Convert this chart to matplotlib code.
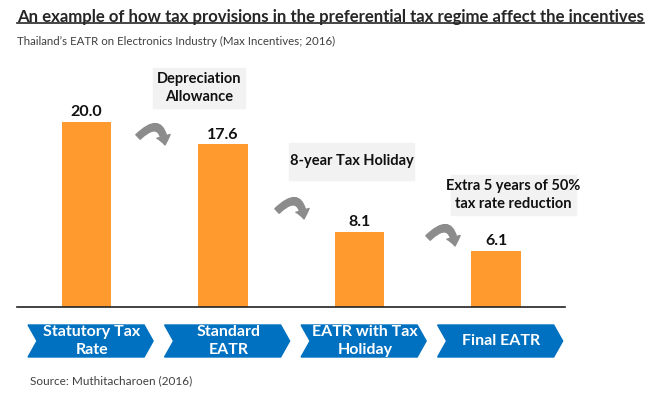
import matplotlib.pyplot as plt
from matplotlib.patches import Polygon, FancyArrowPatch, Rectangle
from matplotlib.path import Path
from matplotlib import transforms

# data
stages = ["Statutory Tax\nRate", "Standard\nEATR", "EATR with Tax\nHoliday", "Final EATR"]
eatr = [20.0, 17.6, 8.1, 6.1]
steps = ["Depreciation\nAllowance", "8-year Tax Holiday", "Extra 5 years of 50%\ntax rate reduction"]

W, H = 656, 399
plt.rcParams['font.family'] = ['Lato', 'DejaVu Sans']

fig = plt.figure(figsize=(W / 100, H / 100), dpi=100)

def px(x, y):
    return x / W, 1 - y / H

# axes: baseline at y=307px, 9.25 px per unit
ax = fig.add_axes([17 / W, (H - 307) / H, (565 - 17) / W, 231 / H])
x = list(range(len(eatr)))
ax.bar(x, eatr, width=0.36, color="#FF9A2E")
ax.set_xlim(-0.509, 3.505)
ax.set_ylim(0, 25)
for s in ["top", "right", "left"]:
    ax.spines[s].set_visible(False)
ax.spines["bottom"].set_color("#222222")
ax.spines["bottom"].set_linewidth(1.2)
ax.set_xticks([])
ax.set_yticks([])
for xi, v in zip(x, eatr):
    ax.text(xi, v + 0.3, f"{v:.1f}", ha="center", va="bottom",
            fontsize=11.5, fontweight="bold", color="#111111")

# chevron labels under bars
blend = transforms.blended_transform_factory(ax.transData, fig.transFigure)
half = 0.458
notch = 9 / 136.5
y0, y1 = 1 - 325 / H, 1 - 357 / H
ym = (y0 + y1) / 2
for xi, lab in zip(x, stages):
    c = xi + 0.03
    pts = [(c - half, y0), (c + half - notch, y0), (c + half, ym),
           (c + half - notch, y1), (c - half, y1), (c - half + notch, ym)]
    ax.add_patch(Polygon(pts, closed=True, transform=blend, color="#0070C0",
                         clip_on=False))
    ax.text(c + 0.01, ym, lab, transform=blend, ha="center", va="center",
            color="white", fontsize=11.5, fontweight="bold", linespacing=1.3)

# gray step boxes
boxes = [(153, 68, 245, 108), (289, 143, 414, 180), (451, 175, 576, 215)]
for (bx0, by0, bx1, by1), txt in zip(boxes, steps):
    lx, ly = px(bx0, by1)
    fig.patches.append(Rectangle((lx, ly), (bx1 - bx0) / W, (by1 - by0) / H,
                                 transform=fig.transFigure, color="#F2F2F2"))
    cx, cy = px((bx0 + bx1) / 2, (by0 + by1) / 2)
    fig.text(cx, cy, txt, ha="center", va="center", fontsize=10.5,
             fontweight="bold", color="#111111", linespacing=1.35)

# curved arrows (start point, end point in pixels)
arrows = [((138, 137), (165, 145)), ((277, 211), (304, 219)), ((428, 238), (455, 246))]
for (ax0, ay0), (ax1, ay1) in arrows:
    verts = [px(ax0, ay0), px(ax1 - 3, ay0 - 23), px(ax1, ay1)]
    path = Path(verts, [Path.MOVETO, Path.CURVE3, Path.CURVE3])
    fig.patches.append(FancyArrowPatch(path=path, transform=fig.transFigure,
                                       arrowstyle="simple,head_width=1.1,head_length=0.7,tail_width=0.5",
                                       mutation_scale=9, color="#8C8C8C"))

# titles
title = fig.text(17 / W, 1 - 17 / H, "An example of how tax provisions in the preferential tax regime affect the incentives",
                 ha="left", va="center", fontsize=13.5, fontweight="bold", color="#262626")
sub = fig.text(17 / W, 1 - 41 / H, "Thailand\u2019s EATR on Electronics Industry (Max Incentives; 2016)",
               ha="left", va="center", fontsize=10, color="#404040")
fig.text(30 / W, 1 - 381 / H, "Source: Muthitacharoen (2016)", ha="left", va="center",
         fontsize=8.5, color="#404040")

# fit title / subtitle widths to the reference
fig.canvas.draw()
for t, target in [(title, 631), (sub, 318)]:
    w = t.get_window_extent().width
    t.set_fontsize(t.get_fontsize() * target / w)
fig.canvas.draw()
bb = title.get_window_extent().transformed(fig.transFigure.inverted())
fig.add_artist(plt.Line2D([bb.x0, bb.x1], [bb.y0 + 0.006, bb.y0 + 0.006],
                          transform=fig.transFigure, color="#262626", lw=1.2))

fig.savefig("out.png", dpi=100)
